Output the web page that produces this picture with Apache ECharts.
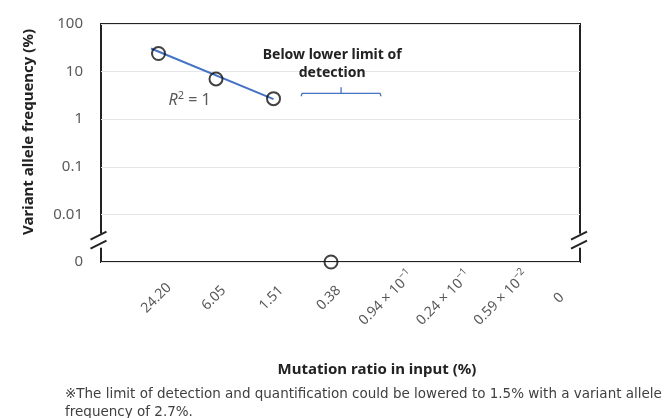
<!DOCTYPE html>
<html><head><meta charset="utf-8">
<script src="https://cdn.jsdelivr.net/npm/echarts@6/dist/echarts.min.js"></script>
<style>html,body{margin:0;padding:0;background:#fff}#c{width:668px;height:418px}</style>
</head><body><div id="c"></div><script>
// ---- data ----
const xPositions = [1, 2, 3, 4, 5, 6, 7, 8];
const xLabelBase = ['24.20', '6.05', '1.51', '0.38', '0.94 × 10', '0.24 × 10', '0.59 × 10', '0'];
const xLabelExp  = ['', '', '', '', '−1', '−1', '−2', ''];
const vafValues  = [24, 7, 2.7, 0, null, null, null, null];   // 0 = not detected
const trendX = [0.87, 3];
const trendY = [30.5, 2.65];
const yTickValues = [0.001, 0.01, 0.1, 1, 10, 100];
const yTickLabels = ['0', '0.01', '0.1', '1', '10', '100'];
const xTitle = 'Mutation ratio in input (%)';
const yTitle = 'Variant allele frequency (%)';
const annoText = ['Below lower limit of', 'detection'];
const annoPos = [4.02, 14.7];
const bracketX = [3.48, 4.87];
const bracketY = 3.5;
const r2Pos = [1.54, 2.5];
const breakY = 0.0028;
const footnote = ['※The limit of detection and quantification could be lowered to 1.5% with a variant allele', 'frequency of 2.7%.'];

const FONT = "'Noto Sans', 'Noto Sans CJK JP', sans-serif";
const FOOT_FONT = "'DejaVu Sans', 'Noto Sans CJK JP', sans-serif";
const GRAY = '#595959';
const DARK = '#222';
const BLUE = '#4472C4';
const Y_MIN = yTickValues[0];

const pts = [];
xPositions.forEach((x, i) => {
  const v = vafValues[i];
  if (v === null) return;
  pts.push([x, v === 0 ? Y_MIN : v]);  // zero sits on the "0" tick at the axis bottom
});

const chart = echarts.init(document.getElementById('c'), null, {renderer: 'canvas'});
chart.setOption({
  animation: false,
  textStyle: {fontFamily: FONT},
  grid: {left: 101, right: 88, top: 24, bottom: 156, show: true, borderColor: DARK, borderWidth: 2, backgroundColor: 'transparent'},
  xAxis: {
    type: 'value', min: 0, max: 8.33, interval: 1,
    axisLine: {show: false}, axisTick: {show: false}, splitLine: {show: false},
    axisLabel: {
      rotate: 45, margin: 34, color: GRAY, fontSize: 14, fontFamily: FONT,
      align: 'center', verticalAlign: 'middle', padding: [0, 6, 0, 0],
      showMinLabel: false, showMaxLabel: false,
      formatter: function (v) {
        const i = xPositions.indexOf(Math.round(v));
        if (i < 0 || Math.abs(v - Math.round(v)) > 1e-6) return '';
        return '{b|' + xLabelBase[i] + '}' + (xLabelExp[i] ? '{s|' + xLabelExp[i] + '}' : '');
      },
      rich: {
        b: {fontSize: 14, color: GRAY, fontFamily: FONT, lineHeight: 20},
        s: {fontSize: 10, color: GRAY, fontFamily: FONT, lineHeight: 11, verticalAlign: 'top'}
      }
    }
  },
  yAxis: {
    type: 'log', logBase: 10, min: 0.001, max: 100,
    axisLine: {show: false}, axisTick: {show: false},
    splitLine: {show: true, lineStyle: {color: '#e6e6e6', width: 1}},
    axisLabel: {
      color: GRAY, fontSize: 15, margin: 18, fontFamily: FONT,
      formatter: function (v) {
        const e = Math.round(Math.log10(v));
        const i = yTickValues.findIndex(t => Math.round(Math.log10(t)) === e);
        return i >= 0 ? yTickLabels[i] : '';
      }
    }
  },
  series: [
    {type: 'line', data: trendX.map((x, i) => [x, trendY[i]]), showSymbol: false, symbol: 'none',
     lineStyle: {color: BLUE, width: 2}, z: 2, silent: true},
    {type: 'scatter', data: pts, symbol: 'circle', symbolSize: 13,
     itemStyle: {color: 'rgba(0,0,0,0)', borderColor: '#111', borderWidth: 2}, z: 3}
  ]
});

const px = (x, y) => chart.convertToPixel({gridIndex: 0}, [x, y]);
const g = [];
// axis breaks on left and right borders
[[0, -1.5], [8.33, 0]].forEach(([xv, dx]) => {
  const p = px(xv, breakY);
  const cx = p[0], cy = p[1];
  g.push({type: 'rect', shape: {x: cx - 3, y: cy - 7, width: 6, height: 14}, style: {fill: '#fff'}, z: 10});
  g.push({type: 'line', shape: {x1: cx - 9 + dx, y1: cy - 1, x2: cx + 7 + dx, y2: cy - 9}, style: {stroke: DARK, lineWidth: 2}, z: 11});
  g.push({type: 'line', shape: {x1: cx - 9 + dx, y1: cy + 8, x2: cx + 7 + dx, y2: cy}, style: {stroke: DARK, lineWidth: 2}, z: 11});
});
// axis titles
g.push({type: 'text', x: 377, y: 370, z: 12, style: {text: xTitle, align: 'center', verticalAlign: 'middle',
  fontSize: 15, fontWeight: 'bold', fill: DARK, fontFamily: FONT}});
g.push({type: 'text', x: 29, y: 132, rotation: Math.PI / 2, z: 12, style: {text: yTitle, align: 'center', verticalAlign: 'middle',
  fontSize: 15, fontWeight: 'bold', fill: DARK, fontFamily: FONT}});
// annotation text
const ap = px(annoPos[0], annoPos[1]);
g.push({type: 'text', x: ap[0], y: ap[1], z: 12, style: {text: annoText.join('\n'), align: 'center', verticalAlign: 'middle',
  fontSize: 14, fontWeight: 'bold', fill: DARK, fontFamily: FONT, lineHeight: 18}});
// bracket
const b0 = px(bracketX[0], bracketY), b1 = px(bracketX[1], bracketY);
const bm = (b0[0] + b1[0]) / 2, by = b0[1];
g.push({type: 'polyline', z: 12, shape: {points: [[b0[0], by + 3], [b0[0] + 1, by], [b1[0] - 1, by], [b1[0], by + 3]]}, style: {stroke: BLUE, lineWidth: 1.3, fill: null}});
g.push({type: 'line', z: 12, shape: {x1: bm, y1: by, x2: bm, y2: by - 6}, style: {stroke: BLUE, lineWidth: 1.3}});
// R^2 = 1
const rp = px(r2Pos[0], r2Pos[1]);
g.push({type: 'text', x: rp[0], y: rp[1], z: 12, style: {text: '{i|R}{s|2}{n| = 1}', align: 'center', verticalAlign: 'middle',
  rich: {i: {fontStyle: 'italic', fontSize: 16, fill: GRAY, fontFamily: FONT, lineHeight: 20},
         s: {fontSize: 11, fill: GRAY, fontFamily: FONT, lineHeight: 12, verticalAlign: 'top'},
         n: {fontSize: 16, fill: GRAY, fontFamily: FONT, lineHeight: 20}}}});
// footnote
g.push({type: 'text', left: 65, top: 385, z: 12, style: {text: footnote.join('\n'), fontSize: 13.5, fill: '#404040', fontFamily: FOOT_FONT, lineHeight: 18}});
chart.setOption({graphic: g});
</script></body></html>
